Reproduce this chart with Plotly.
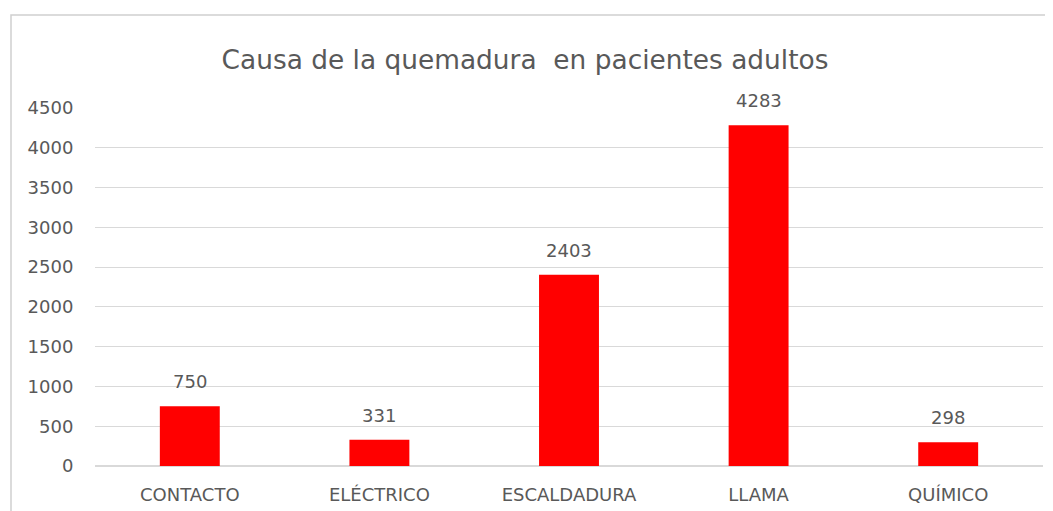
import plotly.graph_objects as go

categories = ["CONTACTO", "ELÉCTRICO", "ESCALDADURA", "LLAMA", "QUÍMICO"]
values = [750, 331, 2403, 4283, 298]
y_ticks = [0, 500, 1000, 1500, 2000, 2500, 3000, 3500, 4000, 4500]
title_text = "Causa de la quemadura  en pacientes adultos"

# page body has an 8px margin, so the figure is sized/positioned to compensate
W, H = 1045, 503
ml, mr, mt, mb = 87, 10, 100, 45
pw = W - ml - mr
ph = H - mt - mb
FONT = "DejaVu Sans"

fig = go.Figure(go.Bar(
    x=categories, y=values,
    marker=dict(color="#ff0000", line=dict(width=0)),
    hoverinfo="x+y",
))

for c, v in zip(categories, values):
    fig.add_annotation(x=c, y=v, text=str(v), showarrow=False, yanchor="bottom",
                       yshift=12, font=dict(family=FONT, size=18, color="#595959"))

fig.update_layout(
    width=W, height=H,
    margin=dict(l=ml, r=mr, t=mt, b=mb, autoexpand=False),
    paper_bgcolor="white", plot_bgcolor="white",
    bargap=0.684,
    showlegend=False,
    title=dict(text=title_text, x=(525 - 8) / W, xanchor="center", y=1 - 52 / H, yanchor="middle",
               font=dict(family=FONT, size=26.4, color="#595959")),
    xaxis=dict(showgrid=False, showline=False, ticks="outside", ticklen=12,
               tickcolor="rgba(0,0,0,0)", automargin=False,
               tickfont=dict(family=FONT, size=18, color="#595959")),
    yaxis=dict(range=[0, 4500], tickvals=y_ticks, showgrid=True, gridcolor="#d9d9d9",
               gridwidth=1, zeroline=True, zerolinecolor="#d9d9d9", showline=False,
               ticks="outside", ticklen=17, tickcolor="rgba(0,0,0,0)", automargin=False,
               tickfont=dict(family=FONT, size=18, color="#595959")),
    shapes=[dict(type="rect", xref="paper", yref="paper",
                 x0=(3 - ml) / pw, x1=1.2, y0=-0.3, y1=(H - mb - 7) / ph,
                 line=dict(color="#d0d0d0", width=1.5), layer="below")],
)

fig.write_html("out.html")
